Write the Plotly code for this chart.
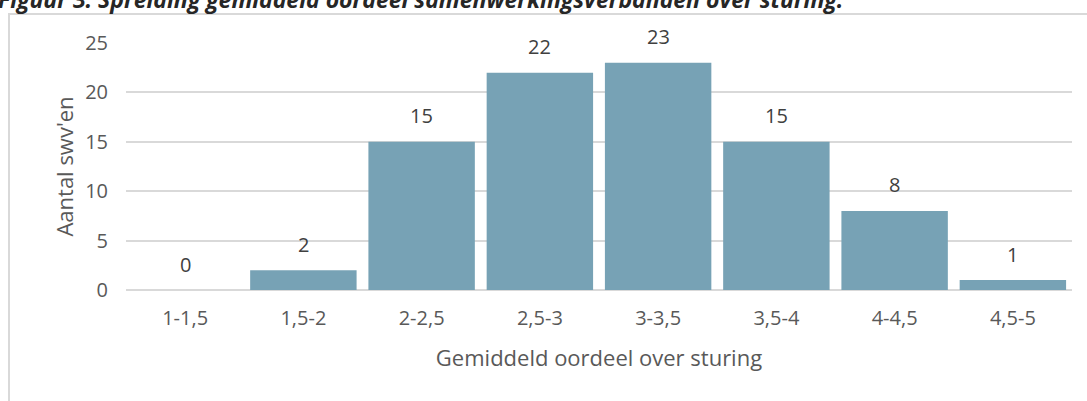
import plotly.graph_objects as go

# Spreiding gemiddeld oordeel over sturing
categorieen = ['1-1,5', '1,5-2', '2-2,5', '2,5-3', '3-3,5', '3,5-4', '4-4,5', '4,5-5']
aantallen = [0, 2, 15, 22, 23, 15, 8, 1]

titel = 'Figuur 3: Spreiding gemiddeld oordeel samenwerkingsverbanden over sturing.'
grijs = '#595959'
lettertype = 'Open Sans'

fig = go.Figure()
fig.add_trace(go.Bar(
    x=categorieen, y=aantallen,
    marker=dict(color='#77A2B5', line=dict(width=0)),
    cliponaxis=False,
))

# waardelabels boven de staven
for cat, val in zip(categorieen, aantallen):
    fig.add_annotation(x=cat, y=val, text=str(val), showarrow=False,
                       yanchor='middle', yshift=26,
                       font=dict(size=20, color='#404040', family=lettertype))

fig.update_layout(
    width=1087, height=401,
    margin=dict(l=126, r=15, t=43, b=111),
    paper_bgcolor='white', plot_bgcolor='white',
    bargap=0.1,
    showlegend=False,
    font=dict(family=lettertype, size=20, color=grijs),
    xaxis=dict(title=dict(text='Gemiddeld oordeel over sturing', font=dict(size=22), standoff=20),
               showgrid=False, showline=False, ticks='outside', ticklen=10, tickcolor='rgba(0,0,0,0)',
               tickfont=dict(size=20), automargin=False),
    yaxis=dict(title=dict(text="Aantal swv'en", font=dict(size=22), standoff=5),
               range=[0, 25], dtick=5, showgrid=True, gridcolor='#D9D9D9', gridwidth=1.5,
               zeroline=True, zerolinecolor='#D9D9D9', zerolinewidth=1.5,
               ticks='outside', ticklen=13, tickcolor='rgba(0,0,0,0)',
               tickfont=dict(size=20), automargin=False),
)

# kader rond de grafiek
fig.add_shape(type='rect', xref='paper', yref='paper',
              x0=(9 - 126) / 946, x1=(1095 - 126) / 946,
              y0=(290 - 410) / 247, y1=(290 - 14) / 247,
              line=dict(color='#D9D9D9', width=2), layer='below')

# bijschrift (valt deels buiten beeld)
fig.add_annotation(text='<i><b>' + titel + '</b></i>', xref='paper', yref='paper',
                   x=(-4 - 126) / 946, y=(290 + 1) / 247, xanchor='left', yanchor='middle',
                   showarrow=False, font=dict(size=23, color='#262626', family=lettertype))

# pagina zonder witrand, zodat de figuur linksboven begint
fig.write_html('out.html', config={'displayModeBar': False},
               post_script="document.body.style.margin='0';")
